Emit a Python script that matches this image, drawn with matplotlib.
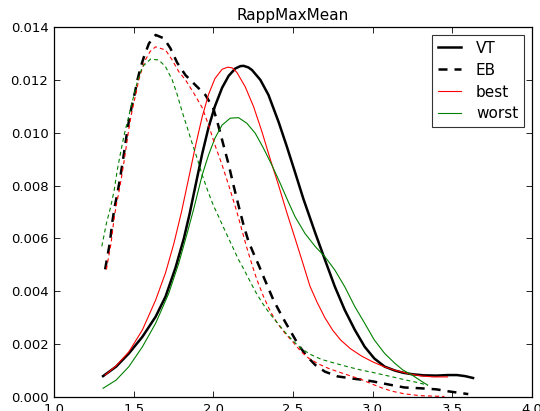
import matplotlib
matplotlib.use("Agg")
import matplotlib.pyplot as plt

# VT (black solid)
vt_x = [1.308, 1.39, 1.47, 1.555, 1.638, 1.70, 1.763, 1.815, 1.85, 1.888, 1.93, 1.97, 2.01, 2.055,
        2.096, 2.138, 2.17, 2.19, 2.22, 2.243, 2.295, 2.346, 2.41, 2.46, 2.513, 2.565, 2.64, 2.70,
        2.763, 2.825, 2.888, 2.95, 3.01, 3.075, 3.14, 3.19, 3.25, 3.32, 3.40, 3.47, 3.53, 3.58, 3.63]
vt_y = [0.00079, 0.00115, 0.00165, 0.00228, 0.00304, 0.0038, 0.0049, 0.0060, 0.0069, 0.0080, 0.0092,
        0.0102, 0.0110, 0.0117, 0.01215, 0.01243, 0.01252, 0.01253, 0.01247, 0.01237, 0.0120,
        0.01143, 0.0104, 0.0095, 0.0085, 0.0075, 0.0062, 0.0052, 0.00417, 0.00329, 0.00254,
        0.0019, 0.00146, 0.00115, 0.0010, 0.00092, 0.00086, 0.00082, 0.00081, 0.00083, 0.00083,
        0.00079, 0.00072]

# EB (black dashed)
eb_x = [1.321, 1.335, 1.35, 1.367, 1.381, 1.398, 1.413, 1.43, 1.446, 1.461, 1.476, 1.492, 1.509,
        1.523, 1.545, 1.565, 1.596, 1.638, 1.69, 1.73, 1.773, 1.825, 1.888, 1.95, 2.0, 2.03, 2.065,
        2.096, 2.127, 2.16, 2.19, 2.22, 2.258, 2.284, 2.315, 2.346, 2.377, 2.42, 2.45, 2.492,
        2.534, 2.586, 2.64, 2.70, 2.78, 2.87, 2.95, 3.01, 3.12, 3.20, 3.30, 3.40, 3.48, 3.60]
eb_y = [0.00483, 0.00531, 0.00581, 0.00666, 0.0072, 0.00771, 0.00821, 0.00885, 0.0095, 0.01012,
        0.01065, 0.01111, 0.01155, 0.01198, 0.0125, 0.01288, 0.01338, 0.0137, 0.01357, 0.0132,
        0.01265, 0.01218, 0.0118, 0.01143, 0.01092, 0.0103, 0.0095, 0.0088, 0.0080, 0.0072,
        0.0065, 0.0059, 0.00535, 0.0050, 0.00455, 0.00411, 0.00367, 0.00318, 0.00285, 0.00241,
        0.00197, 0.00155, 0.00121, 0.00096, 0.00078, 0.0007, 0.00064, 0.00058, 0.00045, 0.00036,
        0.00033, 0.00029, 0.00021, 0.00011]

# best (red solid)
best_x = [1.321, 1.39, 1.47, 1.555, 1.638, 1.70, 1.752, 1.80, 1.846, 1.888, 1.93, 1.97, 2.01, 2.055,
          2.09, 2.12, 2.148, 2.20, 2.253, 2.305, 2.357, 2.41, 2.46, 2.513, 2.56, 2.606, 2.65, 2.70,
          2.75, 2.80, 2.86, 2.93, 3.0, 3.07, 3.14, 3.22, 3.30, 3.38, 3.47]
best_y = [0.00083, 0.00118, 0.00171, 0.00254, 0.00367, 0.0047, 0.0058, 0.0070, 0.0083, 0.0095,
          0.0106, 0.01145, 0.01205, 0.0124, 0.01248, 0.01245, 0.01228, 0.01174, 0.01098, 0.01004,
          0.0090, 0.0080, 0.0070, 0.0060, 0.0051, 0.0042, 0.0036, 0.0030, 0.00252, 0.00215, 0.00183,
          0.00155, 0.00133, 0.00115, 0.00101, 0.00089, 0.0008, 0.00076, 0.00076]

# worst (green solid)
worst_x = [1.308, 1.39, 1.47, 1.555, 1.638, 1.72, 1.783, 1.836, 1.877, 1.93, 1.97, 2.01, 2.055,
           2.106, 2.158, 2.21, 2.263, 2.315, 2.367, 2.42, 2.47, 2.513, 2.575, 2.64, 2.70, 2.763,
           2.825, 2.888, 2.95, 3.01, 3.075, 3.14, 3.19, 3.25, 3.30, 3.345]
worst_y = [0.00033, 0.00064, 0.00115, 0.0019, 0.00279, 0.00392, 0.00506, 0.0062, 0.00712, 0.0084,
           0.00916, 0.00979, 0.01029, 0.01055, 0.01057, 0.01036, 0.00998, 0.00941, 0.00878, 0.00808,
           0.00739, 0.00682, 0.00619, 0.00569, 0.00531, 0.0048, 0.00417, 0.00342, 0.00279, 0.00216,
           0.00165, 0.00127, 0.00102, 0.00082, 0.00062, 0.00045]

# best (red dashed)
bestd_x = [1.329, 1.343, 1.358, 1.375, 1.389, 1.406, 1.421, 1.438, 1.454, 1.469, 1.484, 1.50, 1.517,
           1.531, 1.553, 1.573, 1.604, 1.638, 1.70, 1.742, 1.783, 1.825, 1.877, 1.93, 1.97, 2.01,
           2.055, 2.096, 2.148, 2.18, 2.21, 2.243, 2.274, 2.315, 2.357, 2.40, 2.45, 2.50, 2.55,
           2.60, 2.66, 2.72, 2.78, 2.85, 2.93, 3.0, 3.06, 3.12, 3.20, 3.30, 3.45]
bestd_y = [0.00483, 0.00531, 0.00581, 0.00666, 0.0072, 0.00771, 0.00821, 0.00885, 0.0095, 0.01012,
           0.01065, 0.01111, 0.01155, 0.01198, 0.01242, 0.01275, 0.01308, 0.01325, 0.01313, 0.01275,
           0.01231, 0.0120, 0.0115, 0.01095, 0.01029, 0.00954, 0.00878, 0.00802, 0.0070, 0.0063,
           0.00565, 0.0050, 0.00443, 0.0038, 0.00325, 0.0028, 0.00241, 0.00208, 0.00172, 0.00146,
           0.00125, 0.00109, 0.00096, 0.00082, 0.00066, 0.00048, 0.00034, 0.00022, 0.00012, 0.00005,
           0.00002]

# worst (green dashed)
worstd_x = [1.30, 1.33, 1.356, 1.377, 1.398, 1.419, 1.44, 1.461, 1.481, 1.502, 1.523, 1.555, 1.607,
            1.658, 1.70, 1.742, 1.773, 1.804, 1.836, 1.867, 1.90, 1.93, 1.965, 2.0, 2.035, 2.065,
            2.096, 2.127, 2.158, 2.19, 2.22, 2.263, 2.305, 2.346, 2.40, 2.45, 2.50, 2.55, 2.606,
            2.68, 2.75, 2.84, 2.92, 3.0, 3.066, 3.14, 3.21, 3.28, 3.345]
worstd_y = [0.0057, 0.0066, 0.0072, 0.0078, 0.00862, 0.00928, 0.00991, 0.01042, 0.01092, 0.01143,
            0.01193, 0.0125, 0.01279, 0.01275, 0.0125, 0.0120, 0.01145, 0.0108, 0.0102, 0.0096,
            0.0090, 0.0084, 0.0078, 0.00725, 0.0068, 0.0064, 0.0060, 0.0056, 0.0052, 0.00485,
            0.0045, 0.0040, 0.00358, 0.00322, 0.00282, 0.00245, 0.00212, 0.00185, 0.00162, 0.00142,
            0.0013, 0.00115, 0.00103, 0.00093, 0.00084, 0.00074, 0.00064, 0.00055, 0.00045]

x_ticks = [1.0, 1.5, 2.0, 2.5, 3.0, 3.5, 4.0]
y_ticks = [0.000, 0.002, 0.004, 0.006, 0.008, 0.010, 0.012, 0.014]

fig = plt.figure(figsize=(5.4, 4.11), dpi=100, facecolor="white")
ax = fig.add_axes([54 / 540, 14 / 411, 478 / 540, 370 / 411])

dash = (3.6, 2.8)
ax.plot(vt_x, vt_y, color="black", lw=1.8, label="VT")
ax.plot(eb_x, eb_y, color="black", lw=1.8, dashes=dash, label="EB")
ax.plot(best_x, best_y, color="red", lw=0.8, label="best")
ax.plot(worst_x, worst_y, color="green", lw=0.8, label="worst")
ax.plot(bestd_x, bestd_y, color="red", lw=0.8, dashes=dash)
ax.plot(worstd_x, worstd_y, color="green", lw=0.8, dashes=dash)

ax.set_xlim(1.0, 4.0)
ax.set_ylim(0.0, 0.014)
ax.set_xticks(x_ticks)
ax.set_yticks(y_ticks)
ax.set_xticklabels([f"{v:.1f}" for v in x_ticks])
ax.set_yticklabels([f"{v:.3f}" for v in y_ticks])
ax.tick_params(direction="in", top=True, right=True, length=4, width=0.6, labelsize=9.5, pad=4)
for s in ax.spines.values():
    s.set_linewidth(0.9)
ax.set_title("RappMaxMean", fontsize=11, pad=5)
leg = ax.legend(loc="upper right", fontsize=11, frameon=True, fancybox=False, borderaxespad=0.5,
                handlelength=1.5, handletextpad=1.0, borderpad=0.4, labelspacing=0.45)
leg.get_frame().set_edgecolor("black")
leg.get_frame().set_linewidth(0.8)

fig.savefig("out.png", dpi=100, facecolor="white")
